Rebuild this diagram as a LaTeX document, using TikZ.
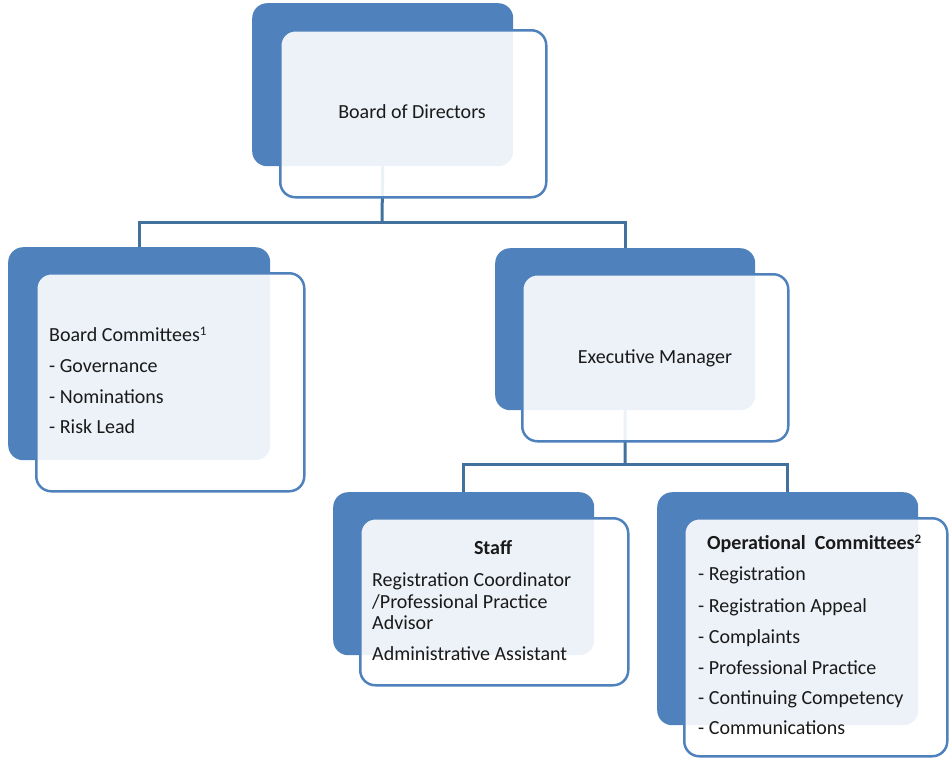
\documentclass[tikz,border=0pt]{standalone}
\usepackage{fontspec}
\setmainfont{Carlito}
\definecolor{bblue}{HTML}{4F81BD}
\definecolor{cblue}{HTML}{41719C}
\definecolor{tcol}{HTML}{1A1A1A}
\newcommand\lblfont{\fontsize{20}{24}\selectfont}
\newcommand\supnum[1]{\raisebox{0.28em}{\fontsize{13}{13}\selectfont #1}}
\tikzset{
  backbox/.style={rectangle, rounded corners=15pt, fill=bblue, draw=none, inner sep=0pt, anchor=north west},
  frontbox/.style={rectangle, rounded corners=15pt, fill=white, fill opacity=0.9, draw=bblue, draw opacity=1, line width=2.5pt, inner sep=0pt, anchor=north west},
  conn/.style={draw=cblue, line width=3pt},
  txt/.style={font=\lblfont, text=tcol, inner sep=0pt, anchor=base west},
  ctxt/.style={font=\lblfont, text=tcol, inner sep=0pt, anchor=base}
}
\begin{document}
\begin{tikzpicture}[x=1pt,y=-1pt]
\useasboundingbox (0,0) rectangle (950,758);
% back boxes
\node[backbox, minimum width=261pt, minimum height=163pt] (bodback) at (252,3) {};
\node[backbox, minimum width=262pt, minimum height=213pt] (bcback) at (8,247) {};
\node[backbox, minimum width=260pt, minimum height=162pt] (exback) at (495,248) {};
\node[backbox, minimum width=261pt, minimum height=163pt] (stback) at (333,492) {};
\node[backbox, minimum width=261pt, minimum height=233pt] (opback) at (657,492) {};
% connectors
\coordinate (j1) at (382,222);
\coordinate (j2) at (625,464);
\draw[conn] (bodback.south) -- (j1);
\draw[conn] (bcback.north) |- (j1) -| (exback.north);
\draw[conn] (exback.south) -- (j2);
\draw[conn] (stback.north) |- (j2) -| (opback.north);
% front boxes
\node[frontbox, minimum width=266pt, minimum height=167pt] (bodfront) at (279,29) {};
\node[frontbox, minimum width=268pt, minimum height=218pt] (bcfront) at (35,272) {};
\node[frontbox, minimum width=266pt, minimum height=167pt] (exfront) at (521,273) {};
\node[frontbox, minimum width=268pt, minimum height=167pt] (stfront) at (359,517) {};
\node[frontbox, minimum width=263pt, minimum height=238pt] (opfront) at (683,517) {};
% texts
\node[ctxt] (t1) at (412,118) {Board of Directors};
\node[txt] (t2) at (49,341) {Board Committees\supnum{1}};
\node[txt] (t3) at (49,372) {- Governance};
\node[txt] (t4) at (49,403) {- Nominations};
\node[txt] (t5) at (49,433) {- Risk Lead};
\node[ctxt] (t6) at (655,363) {Executive Manager};
\node[ctxt] (t7) at (493,554) {\textbf{Staff}};
\node[txt] (t8) at (372,586) {Registration Coordinator};
\node[txt] (t9) at (372,608) {/Professional Practice};
\node[txt] (t10) at (372,629) {Advisor};
\node[txt] (t11) at (372,660) {Administrative Assistant};
\node[txt] (t12) at (707,549) {\textbf{Operational\ \ Committees\supnum{2}}};
\node[txt] (t13) at (698,580) {- Registration};
\node[txt] (t14) at (698,612) {- Registration Appeal};
\node[txt] (t15) at (698,643) {- Complaints};
\node[txt] (t16) at (698,674) {- Professional Practice};
\node[txt] (t17) at (698,704) {- Continuing Competency};
\node[txt] (t18) at (698,734) {- Communications};
\end{tikzpicture}
\end{document}
